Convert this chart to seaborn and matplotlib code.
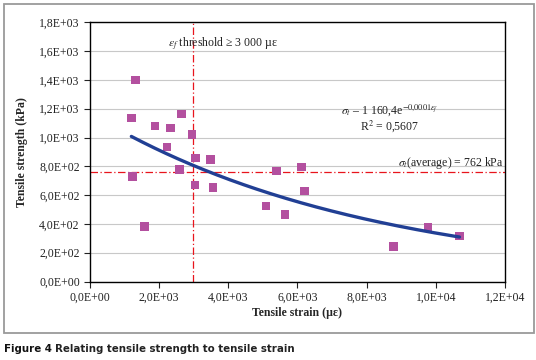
import numpy as np
import pandas as pd
import matplotlib
matplotlib.use("Agg")
import matplotlib.pyplot as plt
from matplotlib.patches import Rectangle
from matplotlib.ticker import FuncFormatter
import seaborn as sns

# ---- data ----
strain = [1330, 1207, 1890, 2332, 2650, 2958, 2245, 3054, 3487, 2592, 1236,
          3045, 3555, 1582, 5100, 5391, 6113, 5633, 6200, 8768, 9760, 10673]
strength = [1400, 1137, 1080, 1066, 1165, 1022, 934, 860, 848, 779, 730,
            668, 654, 383, 524, 769, 793, 466, 630, 244, 380, 316]
threshold_strain = 3000
average_strength = 762
x_ticks = [0, 2000, 4000, 6000, 8000, 10000, 12000]
y_ticks = [0, 200, 400, 600, 800, 1000, 1200, 1400, 1600, 1800]

df = pd.DataFrame({"strain": strain, "strength": strength})

sns.set_theme(style="white")
plt.rcParams["font.family"] = ["Liberation Serif", "DejaVu Serif"]
plt.rcParams["mathtext.fontset"] = "stix"

fig = plt.figure(figsize=(5.36, 3.6), dpi=100)
ax = fig.add_axes([0.167, 0.218, 0.776, 0.720])

# exponential trend line fitted from the data (as the spreadsheet does)
k, loga = np.polyfit(df["strain"], np.log(df["strength"]), 1)
xs = np.linspace(df["strain"].min(), df["strain"].max(), 200)
trend = pd.DataFrame({"strain": xs, "strength": np.exp(loga) * np.exp(k * xs)})

ax.axhline(average_strength, color="#e8141c", lw=0.9, ls=(0, (6, 2, 1, 2)), zorder=1)
ax.axvline(threshold_strain, color="#e8141c", lw=0.9, ls=(0, (6, 2, 1, 2)), zorder=1)

sns.scatterplot(data=df, x="strain", y="strength", marker="s", s=36,
                color="#b3509f", edgecolor="none", ax=ax, zorder=3)
sns.lineplot(data=trend, x="strain", y="strength", color="#213f94", lw=2.4,
             ax=ax, zorder=4)

ax.set_xlim(0, 12000)
ax.set_ylim(0, 1800)
ax.set_xticks(x_ticks)
ax.set_yticks(y_ticks)


def sci_fmt(v, pos):
    if v == 0:
        return "0,0E+00"
    e = int(np.floor(np.log10(abs(v))))
    m = v / 10 ** e
    return f"{m:.1f}".replace(".", ",") + f"E+{e:02d}"


ax.xaxis.set_major_formatter(FuncFormatter(sci_fmt))
ax.yaxis.set_major_formatter(FuncFormatter(sci_fmt))
ax.tick_params(axis="both", labelsize=8.5, colors="#222222", length=4,
               width=0.8, direction="out", pad=3, bottom=True, left=True)
ax.yaxis.grid(True, color="#c8c8c8", lw=0.8)
ax.xaxis.grid(False)
ax.set_axisbelow(True)
for sp in ax.spines.values():
    sp.set_color("black")
    sp.set_linewidth(1.0)

ax.set_xlabel("Tensile strain (µε)", fontsize=8.5, fontweight="bold", labelpad=3)
ax.set_ylabel("Tensile strength (kPa)", fontsize=8.5, fontweight="bold", labelpad=8)

ax.text(2270, 1650, r"$\varepsilon_f$ threshold ≥ 3 000 µε", fontsize=8.5,
        ha="left", va="center", color="#222222")
ax.text(8670, 1192, r"$\sigma_t$ – 1 160,4e$^{-0{,}0001\varepsilon_f}$",
        fontsize=8.5, ha="center", va="center", color="#222222")
ax.text(8670, 1080, r"R$^2$ = 0,5607", fontsize=8.5, ha="center",
        va="center", color="#222222")
ax.text(11930, 825, r"$\sigma_t$(average) = 762 kPa", fontsize=8.5,
        ha="right", va="center", color="#222222")

# outer frame
fig.patches.append(Rectangle((4 / 536, 1 - 333 / 360), 530 / 536, 329 / 360,
                             transform=fig.transFigure, fill=False,
                             edgecolor="#9a9a9a", lw=1.3))

cap1 = fig.text(4 / 536, 1 - 349 / 360, "Figure 4 ",
                fontsize=8.2, fontweight="bold", ha="left", va="center",
                family=["DejaVu Sans"], fontstretch="condensed", color="#111111")
fig.canvas.draw()
bb = cap1.get_window_extent()
fig.text(bb.x1 / fig.bbox.width, 1 - 349 / 360,
         "Relating tensile strength to tensile strain",
         fontsize=8.2, fontweight="bold", ha="left", va="center",
         family=["DejaVu Sans"], fontstretch="condensed", color="#222222")

fig.savefig("out.png", dpi=100)
